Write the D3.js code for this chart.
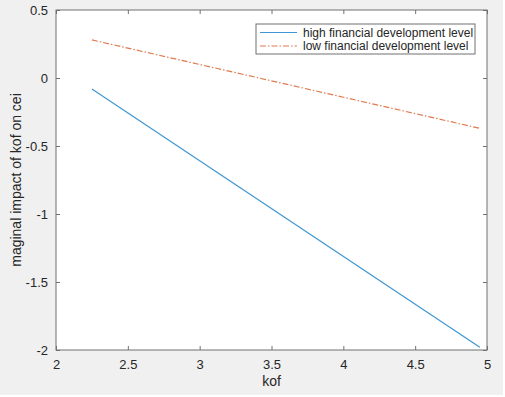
<!DOCTYPE html>
<html>
<head>
<meta charset="utf-8">
<script src="https://cdn.jsdelivr.net/npm/d3@7"></script>
<style>
  body { margin: 0; background: #fff; }
  text { font-family: Arial, "Liberation Sans", sans-serif; fill: #262626; }
</style>
</head>
<body>
<div id="chart"></div>
<script>
// data
const kof = [2.25, 4.95];
const highFin = [-0.08, -1.98];
const lowFin = [0.28, -0.37];
const seriesNames = ["high financial development level", "low financial development level"];
const xTicks = [2, 2.5, 3, 3.5, 4, 4.5, 5];
const yTicks = [-2, -1.5, -1, -0.5, 0, 0.5];

const width = 505, height = 397;
const margin = {top: 10, left: 56, right: 18, bottom: 47};

const svg = d3.select("#chart").append("svg")
    .attr("width", width)
    .attr("height", height);

// figure background
svg.append("rect")
    .attr("x", 0).attr("y", 0)
    .attr("width", 503).attr("height", 395)
    .attr("fill", "#f0f0f0");

const xScale = d3.scaleLinear().domain([2, 5]).range([margin.left, width - margin.right]);
const yScale = d3.scaleLinear().domain([-2, 0.5]).range([height - margin.bottom, margin.top]);

// matlab style labels use a plain hyphen
const fmt = d => String(d);

// plot area
svg.append("rect")
    .attr("x", xScale(2)).attr("y", yScale(0.5))
    .attr("width", xScale(5) - xScale(2))
    .attr("height", yScale(-2) - yScale(0.5))
    .attr("fill", "#fff");

const axisColor = "#707070";
function styleAxis(g, hideText) {
    g.select(".domain").remove();
    g.selectAll(".tick line").attr("stroke", axisColor);
    g.selectAll(".tick text").attr("font-size", 13).attr("fill", "#262626");
    if (hideText) g.selectAll(".tick text").remove();
}

// inward ticks on all four sides
svg.append("g")
    .attr("transform", `translate(0,${yScale(-2)})`)
    .call(d3.axisBottom(xScale).tickValues(xTicks).tickSizeInner(-4).tickSizeOuter(0).tickPadding(10).tickFormat(fmt))
    .call(g => styleAxis(g, false));
svg.append("g")
    .attr("transform", `translate(0,${yScale(0.5)})`)
    .call(d3.axisTop(xScale).tickValues(xTicks).tickSizeInner(-4).tickSizeOuter(0))
    .call(g => styleAxis(g, true));
svg.append("g")
    .attr("transform", `translate(${xScale(2)},0)`)
    .call(d3.axisLeft(yScale).tickValues(yTicks).tickSizeInner(-4).tickSizeOuter(0).tickPadding(8).tickFormat(fmt))
    .call(g => styleAxis(g, false));
svg.append("g")
    .attr("transform", `translate(${xScale(5)},0)`)
    .call(d3.axisRight(yScale).tickValues(yTicks).tickSizeInner(-4).tickSizeOuter(0))
    .call(g => styleAxis(g, true));

// box
svg.append("rect")
    .attr("x", xScale(2)).attr("y", yScale(0.5))
    .attr("width", xScale(5) - xScale(2))
    .attr("height", yScale(-2) - yScale(0.5))
    .attr("fill", "none")
    .attr("stroke", axisColor)
    .attr("stroke-width", 1);

const line = d3.line()
    .x(d => xScale(d[0]))
    .y(d => yScale(d[1]));

const blue = "#3d97d3";
const orange = "#e07a50";

svg.append("path")
    .datum(d3.zip(kof, highFin))
    .attr("d", line)
    .attr("fill", "none")
    .attr("stroke", blue)
    .attr("stroke-width", 1.2);

svg.append("path")
    .datum(d3.zip(kof, lowFin))
    .attr("d", line)
    .attr("fill", "none")
    .attr("stroke", orange)
    .attr("stroke-width", 1.2)
    .attr("stroke-dasharray", "6,2,1.5,2");

// axis labels
svg.append("text")
    .attr("x", (xScale(2) + xScale(5)) / 2)
    .attr("y", 386)
    .attr("text-anchor", "middle")
    .attr("font-size", 14)
    .text("kof");

svg.append("text")
    .attr("transform", "rotate(-90)")
    .attr("x", -(yScale(-2) + yScale(0.5)) / 2)
    .attr("y", 21)
    .attr("text-anchor", "middle")
    .attr("font-size", 14)
    .text("maginal impact of kof on cei");

// legend
const legend = svg.append("g").attr("transform", "translate(256,24)");
legend.append("rect")
    .attr("width", 219).attr("height", 30)
    .attr("fill", "#fff")
    .attr("stroke", axisColor);
[blue, orange].forEach((c, i) => {
    const y = 8.5 + i * 13.5;
    legend.append("line")
        .attr("x1", 4).attr("x2", 41)
        .attr("y1", y).attr("y2", y)
        .attr("stroke", c)
        .attr("stroke-width", 1.2)
        .attr("stroke-dasharray", i === 1 ? "6,2,1.5,2" : null);
    legend.append("text")
        .attr("x", 47).attr("y", y + 4)
        .attr("font-size", 12)
        .text(seriesNames[i]);
});
</script>
</body>
</html>
